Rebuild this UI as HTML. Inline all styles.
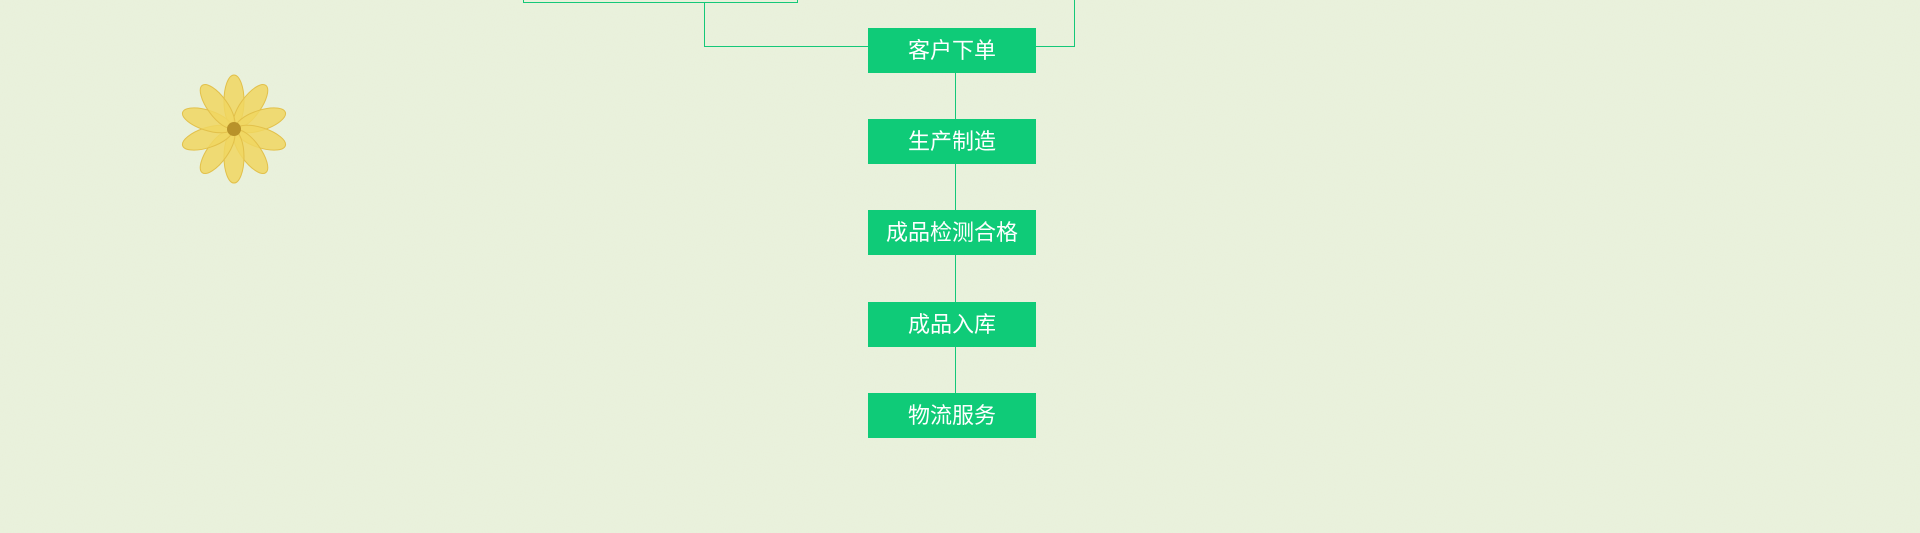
<!DOCTYPE html>
<html><head><meta charset="utf-8"><style>
html,body{margin:0;padding:0;}
body{width:1920px;height:533px;position:relative;overflow:hidden;background:#e8f0d9;font-family:"Liberation Sans","Noto Sans CJK SC",sans-serif;}
.box{position:absolute;left:868px;width:168px;height:45px;background:#0fcb78;color:#fff;font-size:22px;line-height:45px;text-align:center;}
.l{position:absolute;background:#14c878;}
</style></head><body>
<svg width="1920" height="533" style="position:absolute;left:0;top:0">
<filter id="n"><feTurbulence type="fractalNoise" baseFrequency="0.9" numOctaves="2" seed="3"/><feColorMatrix type="matrix" values="0 0 0 0 0.85  0 0 0 0 0.9  0 0 0 0 0.8  0 0 0 0.35 0"/></filter>
<rect width="1920" height="533" filter="url(#n)"/>
<g transform="translate(234,129)">
<g fill="#f0d660" fill-opacity="0.85" stroke="#e2c04a" stroke-width="1">
<ellipse cx="0" cy="-28" rx="10" ry="26" transform="rotate(0)"/>
<ellipse cx="0" cy="-28" rx="10" ry="26" transform="rotate(36)"/>
<ellipse cx="0" cy="-28" rx="10" ry="26" transform="rotate(72)"/>
<ellipse cx="0" cy="-28" rx="10" ry="26" transform="rotate(108)"/>
<ellipse cx="0" cy="-28" rx="10" ry="26" transform="rotate(144)"/>
<ellipse cx="0" cy="-28" rx="10" ry="26" transform="rotate(180)"/>
<ellipse cx="0" cy="-28" rx="10" ry="26" transform="rotate(216)"/>
<ellipse cx="0" cy="-28" rx="10" ry="26" transform="rotate(252)"/>
<ellipse cx="0" cy="-28" rx="10" ry="26" transform="rotate(288)"/>
<ellipse cx="0" cy="-28" rx="10" ry="26" transform="rotate(324)"/>
</g>
<circle r="7" fill="#b8922a"/>
</g>
</svg>
<div style="position:absolute;left:523px;top:-10px;width:273px;height:11px;border:1px solid #14c878;"></div>
<div class="l" style="left:704px;top:3px;width:1px;height:44px"></div>
<div class="l" style="left:704px;top:46px;width:164px;height:1px"></div>
<div class="l" style="left:1036px;top:46px;width:39px;height:1px"></div>
<div class="l" style="left:1074px;top:0;width:1px;height:47px"></div>
<div class="l" style="left:955px;top:73px;width:1px;height:320px"></div>
<div class="box" style="top:28px">客户下单</div>
<div class="box" style="top:119px">生产制造</div>
<div class="box" style="top:210px">成品检测合格</div>
<div class="box" style="top:302px">成品入库</div>
<div class="box" style="top:393px">物流服务</div>
</body></html>
